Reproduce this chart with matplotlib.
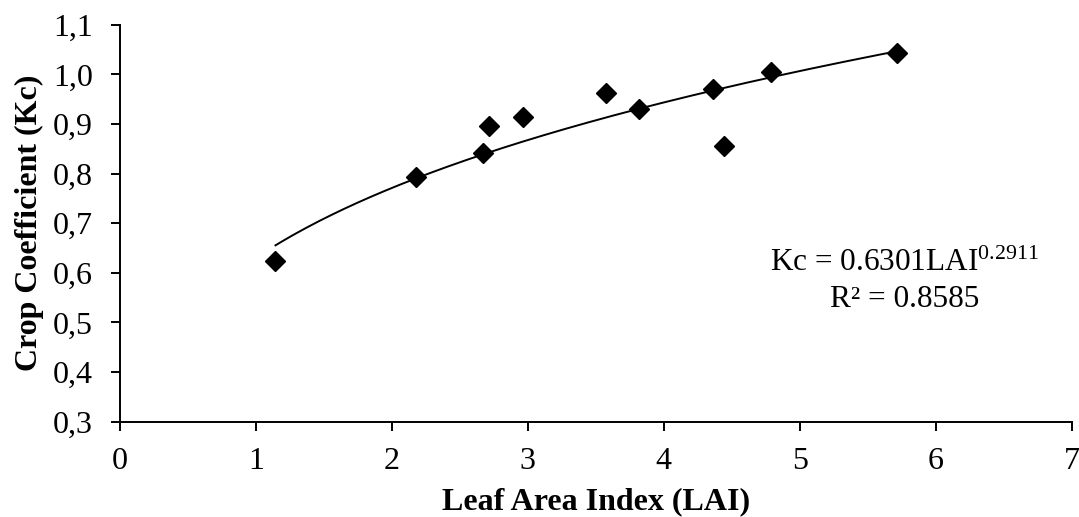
import numpy as np
import matplotlib
matplotlib.use("Agg")
import matplotlib.pyplot as plt

LAI = [1.145, 2.178, 2.674, 2.712, 2.966, 3.577, 3.815, 4.364, 4.442, 4.788, 5.718]
KC = [0.623, 0.793, 0.842, 0.895, 0.914, 0.962, 0.930, 0.971, 0.856, 1.004, 1.044]
COEF_A = 0.6301
COEF_B = 0.2911
R2 = 0.8585

plt.rcParams["font.family"] = ["Liberation Serif", "DejaVu Serif"]
plt.rcParams["mathtext.fontset"] = "custom"
plt.rcParams["mathtext.rm"] = "Liberation Serif"
plt.rcParams["mathtext.it"] = "Liberation Serif:italic"

fig = plt.figure(figsize=(10.79, 5.17), dpi=100)
ax = fig.add_axes([0.111, 0.1843, 0.8823, 0.7679])

# power trend line over the data range
xs = np.linspace(min(LAI), max(LAI), 200)
ax.plot(xs, COEF_A * xs ** COEF_B, color="black", lw=1.4)
ax.plot(LAI, KC, linestyle="none", marker="D", ms=10, color="black")

ax.set_xlim(0, 7)
ax.set_ylim(0.3, 1.1)
ax.set_xticks(range(0, 8))
yt = np.arange(0.3, 1.101, 0.1)
ax.set_yticks(yt)
ax.set_yticklabels([f"{v:.1f}".replace(".", ",") for v in yt])

for s in ["top", "right"]:
    ax.spines[s].set_visible(False)
for s in ["left", "bottom"]:
    ax.spines[s].set_linewidth(1.4)
ax.tick_params(direction="out", length=6.5, width=1.4, labelsize=23)
ax.tick_params(axis="x", pad=12)
ax.tick_params(axis="y", pad=13)

ax.set_xlabel("Leaf Area Index (LAI)", fontsize=23, fontweight="bold", labelpad=8)
ax.set_ylabel("Crop Coefficient (Kc)", fontsize=23, fontweight="bold", labelpad=6)

ax.text(5.77, 0.604, r"Kc = 0.6301LAI$^{\mathrm{0.2911}}$", fontsize=22.5,
        ha="center", va="baseline")
ax.text(5.77, 0.532, f"R² = {R2}", fontsize=22.5, ha="center", va="baseline")

fig.savefig("out.png", dpi=100)
